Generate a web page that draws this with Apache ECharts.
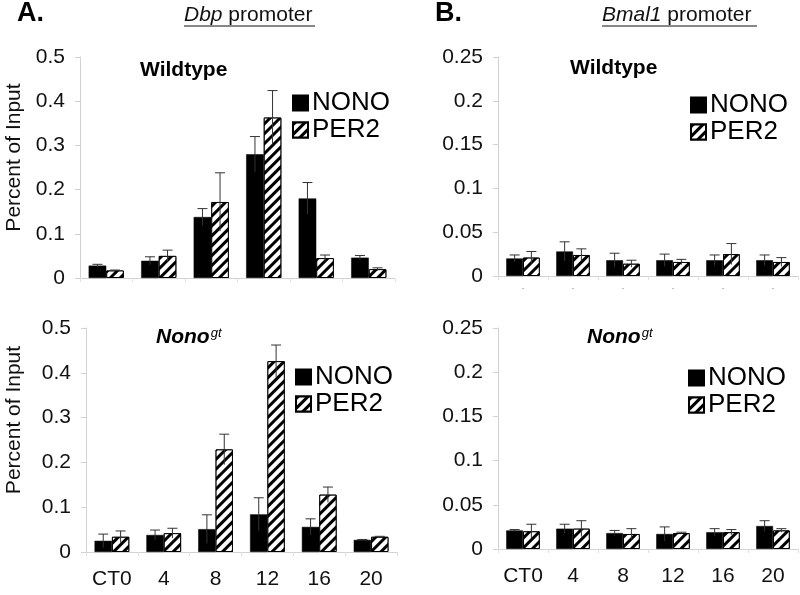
<!DOCTYPE html>
<html>
<head>
<meta charset="utf-8">
<script src="https://cdn.jsdelivr.net/npm/echarts@6/dist/echarts.min.js"></script>
<style>html,body{margin:0;padding:0;background:#fff}#c{width:800px;height:595px}</style>
</head>
<body>
<div id="c"></div>
<script>
var categories = ['CT0', '4', '8', '12', '16', '20'];
var seriesNames = ['NONO', 'PER2'];
var dbpTicks = [0, 0.1, 0.2, 0.3, 0.4, 0.5];
var bmalTicks = [0, 0.05, 0.1, 0.15, 0.2, 0.25];

// Dbp promoter, Wildtype
var dbpWtNono = [0.028, 0.039, 0.138, 0.280, 0.180, 0.046];
var dbpWtNonoErr = [0.003, 0.009, 0.019, 0.040, 0.036, 0.005];
var dbpWtPer2 = [0.017, 0.050, 0.172, 0.363, 0.045, 0.020];
var dbpWtPer2Err = [0.001, 0.013, 0.066, 0.061, 0.007, 0.003];
// Dbp promoter, Nono gt
var dbpGtNono = [0.025, 0.038, 0.051, 0.084, 0.056, 0.027];
var dbpGtNonoErr = [0.015, 0.011, 0.032, 0.037, 0.018, 0.001];
var dbpGtPer2 = [0.034, 0.042, 0.229, 0.426, 0.128, 0.034];
var dbpGtPer2Err = [0.013, 0.011, 0.034, 0.036, 0.017, 0.001];
// Bmal1 promoter, Wildtype
var bmalWtNono = [0.020, 0.028, 0.018, 0.018, 0.018, 0.018];
var bmalWtNonoErr = [0.004, 0.011, 0.008, 0.007, 0.006, 0.006];
var bmalWtPer2 = [0.021, 0.024, 0.014, 0.016, 0.025, 0.016];
var bmalWtPer2Err = [0.007, 0.007, 0.004, 0.003, 0.012, 0.005];
// Bmal1 promoter, Nono gt
var bmalGtNono = [0.021, 0.023, 0.018, 0.017, 0.019, 0.026];
var bmalGtNonoErr = [0.001, 0.005, 0.003, 0.008, 0.004, 0.006];
var bmalGtPer2 = [0.020, 0.023, 0.017, 0.018, 0.019, 0.021];
var bmalGtPer2Err = [0.008, 0.009, 0.006, 0.001, 0.003, 0.002];

var FONT = 'Liberation Sans, Arial, Helvetica, sans-serif';
var AXIS_GRAY = '#d2d2d2';
var CAT_GAP = 0.33;

var panels = [
  {grid: {left: 80, top: 57, width: 315, height: 221}, ticks: dbpTicks, nono: dbpWtNono, nonoErr: dbpWtNonoErr, per2: dbpWtPer2, per2Err: dbpWtPer2Err,
   yName: 'Percent of Input', nameGap: 55, namePad: 20, xLabels: false, dashLabels: false, legend: {left: 292, top: 90}},
  {grid: {left: 86, top: 328, width: 311, height: 224}, ticks: dbpTicks, nono: dbpGtNono, nonoErr: dbpGtNonoErr, per2: dbpGtPer2, per2Err: dbpGtPer2Err,
   yName: 'Percent of Input', nameGap: 61, namePad: 40, xLabels: true, dashLabels: false, legend: {left: 295, top: 364}},
  {grid: {left: 498, top: 57, width: 300, height: 219}, ticks: bmalTicks, nono: bmalWtNono, nonoErr: bmalWtNonoErr, per2: bmalWtPer2, per2Err: bmalWtPer2Err,
   yName: '', nameGap: 0, namePad: 0, xLabels: false, dashLabels: true, legend: {left: 690, top: 92}},
  {grid: {left: 498, top: 328, width: 300, height: 221}, ticks: bmalTicks, nono: bmalGtNono, nonoErr: bmalGtNonoErr, per2: bmalGtPer2, per2Err: bmalGtPer2Err,
   yName: '', nameGap: 0, namePad: 0, xLabels: true, dashLabels: false, legend: {left: 688, top: 365}}
];

var hatch = {
  symbol: 'rect', symbolSize: 1, dashArrayX: [1, 0], dashArrayY: [3, 4],
  rotation: -Math.PI / 4, color: '#000', backgroundColor: '#fff'
};

function errRenderer(sign) {
  return function (params, api) {
    var i = api.value(0), v = api.value(1), e = api.value(2);
    var c = api.coord([i, v]);
    var catW = api.size([1, 0])[0];
    var bw = catW * (1 - CAT_GAP) / 2;
    var cx = c[0] + sign * bw / 2;
    var top = api.coord([i, v + e])[1];
    var bot = api.coord([i, Math.max(0, v - e)])[1];
    var st = {stroke: '#333', lineWidth: 1};
    return {type: 'group', children: [
      {type: 'line', shape: {x1: cx, y1: top, x2: cx, y2: bot}, style: st},
      {type: 'line', shape: {x1: cx - 5, y1: top, x2: cx + 5, y2: top}, style: st}
    ]};
  };
}

var grids = [], xAxes = [], yAxes = [], series = [], legends = [];
panels.forEach(function (p, k) {
  grids.push(p.grid);
  xAxes.push({
    type: 'category', gridIndex: k, data: categories,
    axisLine: {lineStyle: {color: AXIS_GRAY, width: 1}},
    axisTick: {show: true, length: 4, lineStyle: {color: '#e0e0e0'}},
    axisLabel: p.xLabels ? {show: true, color: '#111', fontSize: 21, fontFamily: FONT, margin: 17, interval: 0}
      : (p.dashLabels ? {show: true, formatter: function () { return '-'; }, color: '#aaa', fontSize: 9, fontFamily: FONT, margin: 8, interval: 0} : {show: false})
  });
  var t = p.ticks;
  yAxes.push({
    type: 'value', gridIndex: k, min: t[0], max: t[t.length - 1], interval: t[1] - t[0],
    splitLine: {show: false},
    axisLine: {show: true, lineStyle: {color: AXIS_GRAY, width: 1}},
    axisTick: {show: true, length: 5, lineStyle: {color: AXIS_GRAY}},
    axisLabel: {color: '#111', fontSize: 21, fontFamily: FONT, margin: 15},
    name: p.yName, nameLocation: 'middle', nameGap: p.nameGap,
    nameTextStyle: {color: '#111', fontSize: 21, fontFamily: FONT, padding: [0, 0, 0, p.namePad]}
  });
  series.push({
    name: 'NONO', type: 'bar', xAxisIndex: k, yAxisIndex: k, data: p.nono,
    barGap: '0%', barCategoryGap: (CAT_GAP * 100) + '%',
    itemStyle: {color: '#000', borderColor: '#000', borderWidth: 0.5}
  });
  series.push({
    name: 'PER2', type: 'bar', xAxisIndex: k, yAxisIndex: k, data: p.per2,
    barGap: '0%', barCategoryGap: (CAT_GAP * 100) + '%',
    itemStyle: {color: '#fff', borderColor: '#000', borderWidth: 1, decal: hatch}
  });
  series.push({
    type: 'custom', xAxisIndex: k, yAxisIndex: k, z: 5, silent: true,
    renderItem: errRenderer(-1),
    data: p.nono.map(function (v, i) { return [i, v, p.nonoErr[i]]; })
  });
  series.push({
    type: 'custom', xAxisIndex: k, yAxisIndex: k, z: 5, silent: true,
    renderItem: errRenderer(1),
    data: p.per2.map(function (v, i) { return [i, v, p.per2Err[i]]; })
  });
  legends.push({
    data: seriesNames, orient: 'vertical', left: p.legend.left, top: p.legend.top,
    itemWidth: 15, itemHeight: 15, itemGap: 1, padding: 0, selectedMode: false, icon: 'rect',
    textStyle: {color: '#000', fontSize: 26, fontFamily: FONT, padding: [0, 0, 0, -1]}
  });
});

var titleText = {fontWeight: 'normal', color: '#111', fontFamily: FONT};
var titles = [
  {text: 'A.', left: 17, top: 0, padding: 0, textStyle: {fontSize: 27, fontWeight: 'bold', color: '#000', fontFamily: FONT}},
  {text: 'B.', left: 435, top: 0, padding: 0, textStyle: {fontSize: 27, fontWeight: 'bold', color: '#000', fontFamily: FONT}},
  {text: '{i|Dbp}{n| promoter}', left: 184, top: 5, padding: 0,
   textStyle: {fontSize: 21, fontWeight: 'normal', color: '#111', fontFamily: FONT,
     rich: {i: {fontSize: 21, fontStyle: 'italic', fontWeight: 'normal', color: '#111', fontFamily: FONT},
            n: {fontSize: 21, fontWeight: 'normal', color: '#111', fontFamily: FONT}}}},
  {text: '{i|Bmal1}{n| promoter}', left: 602, top: 5, padding: 0,
   textStyle: {fontSize: 21, fontWeight: 'normal', color: '#111', fontFamily: FONT,
     rich: {i: {fontSize: 21, fontStyle: 'italic', fontWeight: 'normal', color: '#111', fontFamily: FONT},
            n: {fontSize: 21, fontWeight: 'normal', color: '#111', fontFamily: FONT}}}},
  {text: 'Wildtype', left: 140, top: 60, padding: 0, textStyle: {fontSize: 21, fontWeight: 'bold', color: '#000', fontFamily: FONT}},
  {text: 'Wildtype', left: 570, top: 58, padding: 0, textStyle: {fontSize: 21, fontWeight: 'bold', color: '#000', fontFamily: FONT}},
  {text: '{a|Nono}{b|gt}', left: 156, top: 327, padding: 0,
   textStyle: {rich: {a: {fontSize: 21, fontWeight: 'bold', fontStyle: 'italic', color: '#000', fontFamily: FONT},
                      b: {fontSize: 13, fontStyle: 'italic', fontWeight: 'normal', color: '#000', fontFamily: FONT, verticalAlign: 'top', padding: [0, 0, 8, 1]}}}},
  {text: '{a|Nono}{b|gt}', left: 587, top: 327, padding: 0,
   textStyle: {rich: {a: {fontSize: 21, fontWeight: 'bold', fontStyle: 'italic', color: '#000', fontFamily: FONT},
                      b: {fontSize: 13, fontStyle: 'italic', fontWeight: 'normal', color: '#000', fontFamily: FONT, verticalAlign: 'top', padding: [0, 0, 8, 1]}}}}
];

var chart = echarts.init(document.getElementById('c'), null, {renderer: 'canvas'});
chart.setOption({
  animation: false,
  backgroundColor: '#fff',
  title: titles,
  legend: legends,
  grid: grids,
  xAxis: xAxes,
  yAxis: yAxes,
  series: series,
  graphic: [
    {type: 'line', shape: {x1: 184, y1: 26, x2: 315, y2: 26}, style: {stroke: '#111', lineWidth: 1}},
    {type: 'line', shape: {x1: 602, y1: 26, x2: 757, y2: 26}, style: {stroke: '#111', lineWidth: 1}}
  ]
});
</script>
</body>
</html>
